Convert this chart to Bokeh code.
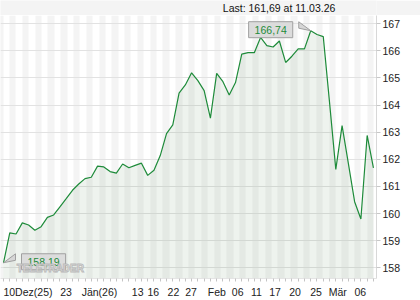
from bokeh.plotting import figure
from bokeh.layouts import column
from bokeh.models import (Range1d, FixedTicker, Label, CustomJSTickFormatter)
from bokeh.embed import file_html
from bokeh.resources import INLINE

# ---- data ----
values = [158.19, 159.29, 159.25, 159.66, 159.58, 159.39, 159.52, 159.86, 159.95, 160.25,
          160.55, 160.86, 161.09, 161.29, 161.34, 161.75, 161.72, 161.55, 161.49, 161.83,
          161.69, 161.78, 161.86, 161.41, 161.60, 162.14, 162.95, 163.27, 164.44, 164.74,
          165.19, 164.90, 164.53, 163.52, 165.17, 164.86, 164.37, 164.83, 165.88, 165.93,
          165.93, 166.49, 166.19, 166.14, 166.36, 165.57, 165.80, 166.07, 166.07, 166.74,
          166.60, 166.52, 164.10, 161.63, 163.24, 161.85, 160.44, 159.80, 162.88, 161.69]
last_date = "11.03.26"
x_tick_idx = [3.9, 9.97, 15.3, 21.4, 23.9, 27.1, 29.9, 34.02, 37.35, 40.35, 43.3, 46.5, 49.85, 53.3, 56.9]
x_tick_labels = ["10Dez(25)", "23", "Jän(26)", "13", "16", "22", "27", "Feb", "06", "11",
                 "17", "20", "25", "Mär", "06"]
y_ticks = [158, 159, 160, 161, 162, 163, 164, 165, 166, 167]

# ---- styling ----
FONT = "Liberation Sans"
FS = "10.5px"
GREEN = "#1e8b3a"
GREY_BG = "#f4f4f4"
n = len(values)
idx = list(range(n))
y0, y1 = 157.61, 167.30
W, H = 420, 300
TOP = 15
FRAME_W, FRAME_H = 376, 265
px_x = (n - 1 + 0.97) / FRAME_W        # index units per pixel
px_y = (y1 - y0) / FRAME_H             # value units per pixel
STRIPE_START, STRIPE_W = -0.05, 1.019  # background stripe layout (index units)


def fmt(v):
    return f"{v:.2f}".replace(".", ",")


# ---- header strip ----
header = figure(width=W, height=TOP, output_backend="svg", toolbar_location=None,
                x_range=Range1d(0, W), y_range=Range1d(0, TOP),
                x_axis_type=None, y_axis_type=None, min_border=0)
header.outline_line_color = None
header.background_fill_color = GREY_BG
header.border_fill_color = GREY_BG
header.grid.visible = False
header.add_layout(Label(x=FRAME_W - 2, y=TOP / 2 + 0.5, text=f"Last: {fmt(values[-1])} at {last_date}",
                        text_align="right", text_baseline="middle", text_font=FONT,
                        text_font_size=FS, text_color="#111111"))

# ---- main chart ----
p = figure(width=W, height=H - TOP, output_backend="svg", toolbar_location=None,
           x_range=Range1d(-0.48, n - 1 + 0.49), y_range=Range1d(y0, y1),
           y_axis_location="right",
           min_border_left=0, min_border_right=W - FRAME_W,
           min_border_top=0, min_border_bottom=H - TOP - FRAME_H)
p.outline_line_color = None
p.background_fill_color = "white"
p.border_fill_color = "white"
p.grid.visible = False

# alternating background stripes + horizontal grid
js = list(range(-1, n + 1, 2))
p.vstrip(x0=[STRIPE_START + j * STRIPE_W for j in js],
         x1=[STRIPE_START + (j + 1) * STRIPE_W for j in js],
         fill_color=GREY_BG, fill_alpha=1, line_color=None)
p.hspan(y=y_ticks, line_color="#e2e2e2", line_width=1)

# axes
p.xaxis.ticker = FixedTicker(ticks=x_tick_idx, minor_ticks=idx)
p.xaxis.formatter = CustomJSTickFormatter(args=dict(tpos=x_tick_idx, tlab=x_tick_labels), code="""
const i = tpos.findIndex(t => Math.abs(t - tick) < 1e-6);
return i >= 0 ? tlab[i] : "";
""")
p.xaxis.major_tick_line_color = None
p.xaxis.major_tick_out = 3
p.xaxis.major_tick_in = 0
p.xaxis.minor_tick_line_color = "#c4c4c4"
p.xaxis.minor_tick_out = 3
p.xaxis.minor_tick_in = 0
p.xaxis.axis_line_color = "#e4e4e4"
p.xaxis.major_label_standoff = 4
p.xaxis.major_label_text_font = FONT
p.xaxis.major_label_text_font_size = FS
p.xaxis.major_label_text_color = "#222222"

p.yaxis.ticker = FixedTicker(ticks=y_ticks)
p.yaxis.major_tick_out = 4
p.yaxis.major_tick_in = 0
p.yaxis.major_tick_line_color = "#c8c8c8"
p.yaxis.minor_tick_line_color = None
p.yaxis.axis_line_color = "#d8d8d8"
p.yaxis.major_label_standoff = 2
p.yaxis.major_label_text_font = FONT
p.yaxis.major_label_text_font_size = FS
p.yaxis.major_label_text_color = "#222222"

# area + line
p.varea(x=idx, y1=y0, y2=values, fill_color="#3d7a3d", fill_alpha=0.09)
p.line(idx, values, line_color=GREEN, line_width=1.2)

# callouts for max / min
mx = max(range(n), key=lambda i: values[i])
mn = min(range(n), key=lambda i: values[i])
gap = 12 * px_x
for i, side in ((mx, -1), (mn, 1)):
    v = values[i]
    edge = i + side * gap
    p.patch([edge, i, edge], [v + 9 * px_y, v, v + 2.5 * px_y],
            fill_color="#d6d6d6", line_color="#a0a0a0", line_width=1)
    p.add_layout(Label(x=edge, y=v, x_offset=side * 6, y_offset=1, text=fmt(v),
                       text_align="right" if side < 0 else "left", text_baseline="middle",
                       text_font=FONT, text_font_size=FS, text_color=GREEN,
                       background_fill_color="#dcdcdc", border_line_color="#a0a0a0",
                       padding=(6, 4)))

# watermark
p.add_layout(Label(x=0.2 + 12 * px_x, y=y0 + 5 * px_y, text="TELETRADER",
                   text_font=FONT, text_font_size="10px",
                   text_font_style="bold", text_color="white", text_alpha=0.9,
                   text_outline_color="#b4b4b4"))

page = column(header, p, spacing=0)
open("out.html", "w").write(file_html(page, INLINE))
